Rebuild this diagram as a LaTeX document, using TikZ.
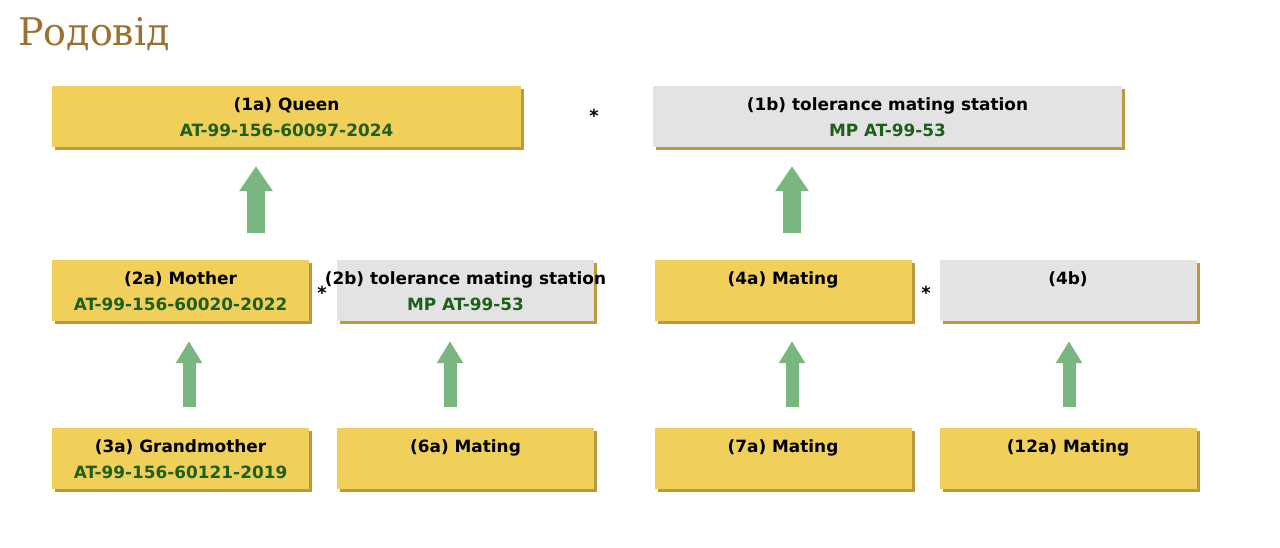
\documentclass[tikz,border=0pt]{standalone}
\usepackage{fontspec}
\setmainfont{DejaVu Sans}
\newfontfamily\titlefont{DejaVu Serif}
\usetikzlibrary{arrows.meta,shadows}

\definecolor{queenyellow}{RGB}{240,207,90}
\definecolor{shadowgold}{RGB}{186,154,60}
\definecolor{stationgray}{RGB}{227,227,227}
\definecolor{idgreen}{RGB}{30,95,25}
\definecolor{arrowgreen}{RGB}{122,182,128}
\definecolor{titlebrown}{RGB}{156,113,45}

\tikzset{
  pedbox/.style={rectangle, minimum height=61pt, inner sep=0pt,
    drop shadow={shadow xshift=3pt, shadow yshift=-3pt, fill=shadowgold, opacity=1}},
  beebox/.style={pedbox, fill=queenyellow},
  stationbox/.style={pedbox, fill=stationgray},
  boxtext/.style={anchor=north, inner sep=0pt, align=center,
    font=\fontsize{16.9}{26}\selectfont\bfseries},
  matingstar/.style={inner sep=0pt, font=\fontsize{18}{20}\selectfont\bfseries},
  bigarrow/.style={draw=arrowgreen, line width=18pt, -{Triangle[length=25pt,width=32pt]}},
  smallarrow/.style={draw=arrowgreen, line width=13pt, -{Triangle[length=22pt,width=25pt]}}
}

\begin{document}
\begin{tikzpicture}[x=1pt,y=-1pt]
    \useasboundingbox[fill=white] (0,0) rectangle (1280,548);

    % Titel
    \node[anchor=base west, inner sep=0pt, text=titlebrown,
      font=\titlefont\fontsize{38}{38}\selectfont] (title) at (18,46) {Родовід};

    % Generation 1
    \node[beebox, minimum width=469pt] (a1) at (286.5,116.5) {};
    \node[stationbox, minimum width=469pt] (b1) at (887.5,116.5) {};
    \node[boxtext] (a1t) at ([yshift=-12pt]a1.north) {(1a) Queen\\\textcolor{idgreen}{AT-99-156-60097-2024}};
    \node[boxtext] (b1t) at ([yshift=-12pt]b1.north) {(1b) tolerance mating station\\\textcolor{idgreen}{MP AT-99-53}};
    \node[matingstar] (s1) at (594,115.5) {*};

    % Generation 2
    \node[beebox, minimum width=257pt] (a2) at (180.5,290.5) {};
    \node[stationbox, minimum width=257pt] (b2) at (465.5,290.5) {};
    \node[beebox, minimum width=257pt] (a4) at (783,290.5) {};
    \node[stationbox, minimum width=257pt] (b4) at (1068,290.5) {};
    \node[boxtext] (a2t) at ([yshift=-12pt]a2.north) {(2a) Mother\\\textcolor{idgreen}{AT-99-156-60020-2022}};
    \node[boxtext] (b2t) at ([yshift=-12pt]b2.north) {(2b) tolerance mating station\\\textcolor{idgreen}{MP AT-99-53}};
    \node[boxtext] (a4t) at ([yshift=-12pt]a4.north) {(4a) Mating};
    \node[boxtext] (b4t) at ([yshift=-12pt]b4.north) {(4b)};
    \node[matingstar] (s2) at (322,292.5) {*};
    \node[matingstar] (s4) at (926,292.5) {*};

    % Generation 3
    \node[beebox, minimum width=257pt] (a3) at (180.5,458.5) {};
    \node[beebox, minimum width=257pt] (m6) at (465.5,458.5) {};
    \node[beebox, minimum width=257pt] (m7) at (783,458.5) {};
    \node[beebox, minimum width=257pt] (m12) at (1068,458.5) {};
    \node[boxtext] (a3t) at ([yshift=-12pt]a3.north) {(3a) Grandmother\\\textcolor{idgreen}{AT-99-156-60121-2019}};
    \node[boxtext] (m6t) at ([yshift=-12pt]m6.north) {(6a) Mating};
    \node[boxtext] (m7t) at ([yshift=-12pt]m7.north) {(7a) Mating};
    \node[boxtext] (m12t) at ([yshift=-12pt]m12.north) {(12a) Mating};

    % Pfeile
    \draw[bigarrow] ([xshift=75.5pt,yshift=27pt]a2.north) -- ([xshift=-30.5pt,yshift=-19pt]a1.south);
    \draw[bigarrow] ([xshift=9pt,yshift=27pt]a4.north) -- ([xshift=-95.5pt,yshift=-19pt]b1.south);
    \draw[smallarrow] ([xshift=8.5pt,yshift=21pt]a3.north) -- ([xshift=8.5pt,yshift=-20pt]a2.south);
    \draw[smallarrow] ([xshift=-15.5pt,yshift=21pt]m6.north) -- ([xshift=-15.5pt,yshift=-20pt]b2.south);
    \draw[smallarrow] ([xshift=9pt,yshift=21pt]m7.north) -- ([xshift=9pt,yshift=-20pt]a4.south);
    \draw[smallarrow] ([xshift=1pt,yshift=21pt]m12.north) -- ([xshift=1pt,yshift=-20pt]b4.south);

\end{tikzpicture}
\end{document}
